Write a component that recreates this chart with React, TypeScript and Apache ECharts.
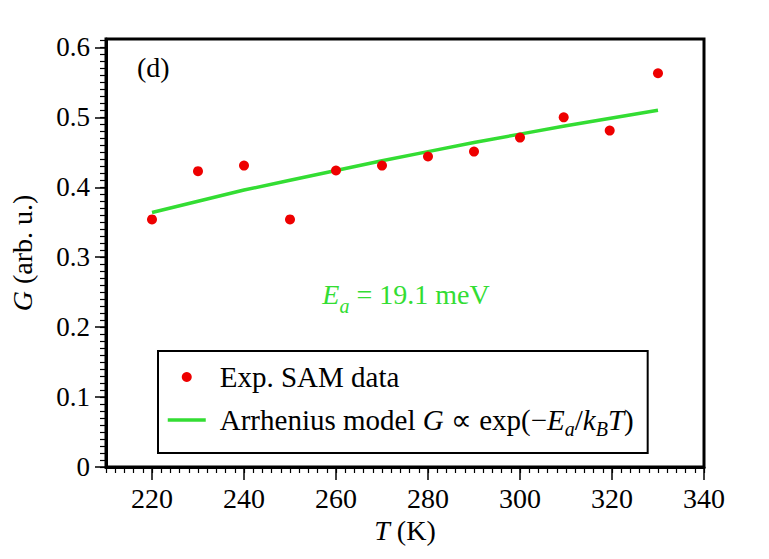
import React, { useEffect, useRef } from "react";
import * as echarts from "echarts";

// Experimental data (T in K, G in arb. u.)
const expT = [220, 230, 240, 250, 260, 270, 280, 290, 300, 309.5, 319.5, 330];
const expG = [0.354, 0.423, 0.431, 0.354, 0.424, 0.431, 0.444, 0.451, 0.471, 0.5, 0.481, 0.563];

// Arrhenius fit curve
const fitT = [220, 230, 240, 250, 260, 270, 280, 290, 300, 310, 320, 330];
const fitG = [0.364, 0.38, 0.396, 0.41, 0.424, 0.438, 0.451, 0.464, 0.476, 0.488, 0.499, 0.51];

// Axis ticks
const xMajorTicks = [220, 240, 260, 280, 300, 320, 340];
const yMajorTicks = [0, 0.1, 0.2, 0.3, 0.4, 0.5, 0.6];
const xMinorTicks: number[] = [];
for (let i = 0; i <= 65; i++) xMinorTicks.push(210 + 2 * i);
const yMinorTicks: number[] = [];
for (let i = 0; i <= 61; i++) yMinorTicks.push(Math.round(i * 10) / 1000);

const FONT = "Liberation Serif";
const GREEN = "#33dd33";
const RED = "#ee0000";

export default function App() {
  const ref = useRef<HTMLDivElement>(null);
  useEffect(() => {
    if (!ref.current) return;
    const chart = echarts.init(ref.current, null, { renderer: "svg" });
    const it = (size: number, color = "#000") => ({
      fontStyle: "italic",
      fontFamily: FONT,
      fontSize: size,
      color,
    });
    const sub = (size: number, shift: number, color = "#000") => ({
      fontStyle: "italic",
      fontFamily: FONT,
      fontSize: size,
      color,
      lineHeight: size,
      padding: [shift, 0, -shift, 0],
    });
    const reg = (size: number, color = "#000") => ({
      fontFamily: FONT,
      fontSize: size,
      color,
    });
    chart.setOption({
      animation: false,
      backgroundColor: "#fff",
      textStyle: { fontFamily: FONT, color: "#000" },
      grid: {
        left: 104,
        right: 65,
        top: 39,
        bottom: 92,
        show: true,
        borderColor: "#000",
        borderWidth: 3,
        backgroundColor: "#fff",
      },
      xAxis: [
        {
          type: "value",
          min: 210,
          max: 340,
          position: "bottom",
          name: "{i|T} (K)",
          nameLocation: "middle",
          nameGap: 42,
          nameTextStyle: {
            fontFamily: FONT,
            fontSize: 28,
            color: "#000",
            rich: { i: it(28) },
          },
          axisLine: { show: true, lineStyle: { color: "#000", width: 3 } },
          axisTick: {
            show: true,
            customValues: xMajorTicks,
            length: 13,
            lineStyle: { color: "#000", width: 1.5 },
          },
          axisLabel: {
            customValues: xMajorTicks,
            margin: 17,
            fontFamily: FONT,
            fontSize: 28,
            color: "#000",
            formatter: (v: number) => `{n|${v}}`,
            rich: { n: reg(28) },
          },
          splitLine: { show: false },
        },
        {
          type: "value",
          min: 210,
          max: 340,
          position: "bottom",
          axisLine: { show: false },
          axisTick: {
            show: true,
            customValues: xMinorTicks,
            length: 6,
            lineStyle: { color: "#000", width: 1.2 },
          },
          axisLabel: { show: false },
          splitLine: { show: false },
        },
      ],
      yAxis: [
        {
          type: "value",
          min: 0,
          max: 0.612,
          position: "left",
          name: "{i|G} (arb. u.)",
          nameLocation: "middle",
          nameRotate: 90,
          nameGap: 70,
          nameTextStyle: {
            fontFamily: FONT,
            fontSize: 28,
            color: "#000",
            rich: { i: it(28) },
          },
          axisLine: { show: true, lineStyle: { color: "#000", width: 3 } },
          axisTick: {
            show: true,
            customValues: yMajorTicks,
            length: 11,
            lineStyle: { color: "#000", width: 1.5 },
          },
          axisLabel: {
            customValues: yMajorTicks,
            margin: 16,
            fontFamily: FONT,
            fontSize: 27,
            color: "#000",
            formatter: (v: number) => `{n|${v === 0 ? "0" : v.toFixed(1)}}`,
            rich: { n: reg(27) },
          },
          splitLine: { show: false },
        },
        {
          type: "value",
          min: 0,
          max: 0.612,
          position: "left",
          axisLine: { show: false },
          axisTick: {
            show: true,
            customValues: yMinorTicks,
            length: 6,
            lineStyle: { color: "#000", width: 1.2 },
          },
          axisLabel: { show: false },
          splitLine: { show: false },
        },
      ],
      legend: {
        left: 158,
        top: 351,
        orient: "vertical",
        selectedMode: false,
        padding: [11, 14, 14, 8],
        itemGap: 13,
        itemWidth: 38,
        itemHeight: 10,
        borderColor: "#000",
        borderWidth: 2,
        backgroundColor: "#fff",
        lineStyle: { width: 3.5 },
        data: [
          { name: "Exp. SAM data", itemStyle: { opacity: 1 } },
          { name: "Arrhenius", itemStyle: { opacity: 0 }, lineStyle: { width: 3.5, color: GREEN } },
        ],
        formatter: (name: string) =>
          name === "Arrhenius"
            ? "Arrhenius model {i|G} ∝ exp(−{i|E}{s|a}/{i|k}{s|B}{i|T})"
            : name,
        textStyle: {
          fontFamily: FONT,
          fontSize: 29,
          color: "#000",
          lineHeight: 30,
          padding: [0, 0, 0, 9],
          rich: { i: it(29), s: sub(20, 9), r: reg(29) },
        },
      },
      graphic: [
        {
          type: "text",
          left: 137,
          top: 53,
          style: {
            text: "(d)",
            fontFamily: FONT,
            fontSize: 28,
            fill: "#000",
          },
        },
        {
          type: "text",
          x: 406,
          y: 294,
          style: {
            text: "{i|E}{s|a}{r| = 19.1 meV}",
            x: 0,
            y: 0,
            align: "center",
            verticalAlign: "middle",
            textAlign: "center",
            textVerticalAlign: "middle",
            fontFamily: FONT,
            fontSize: 28,
            lineHeight: 30,
            fill: GREEN,
            rich: {
              i: { fontStyle: "italic", fontFamily: FONT, fontSize: 28, fill: GREEN, lineHeight: 30 },
              s: { fontStyle: "italic", fontFamily: FONT, fontSize: 20, fill: GREEN, lineHeight: 20, padding: [12, 0, -12, 0] },
              r: { fontFamily: FONT, fontSize: 28, fill: GREEN, lineHeight: 30 },
            },
          },
        },
      ],
      series: [
        {
          name: "Exp. SAM data",
          type: "scatter",
          xAxisIndex: 0,
          yAxisIndex: 0,
          symbol: "circle",
          symbolSize: 10,
          itemStyle: { color: RED, opacity: 1 },
          data: expT.map((t, i) => [t, expG[i]]),
          z: 3,
        },
        {
          name: "Arrhenius",
          type: "line",
          xAxisIndex: 0,
          yAxisIndex: 0,
          symbol: "none",
          showSymbol: false,
          lineStyle: { color: GREEN, width: 3.5 },
          itemStyle: { color: GREEN },
          data: fitT.map((t, i) => [t, fitG[i]]),
          z: 2,
        },
      ],
    });
    return () => chart.dispose();
  }, []);
  return (
    <div
      ref={ref}
      style={{ position: "fixed", left: 0, top: 0, width: 769, height: 559, background: "#fff" }}
    />
  );
}
